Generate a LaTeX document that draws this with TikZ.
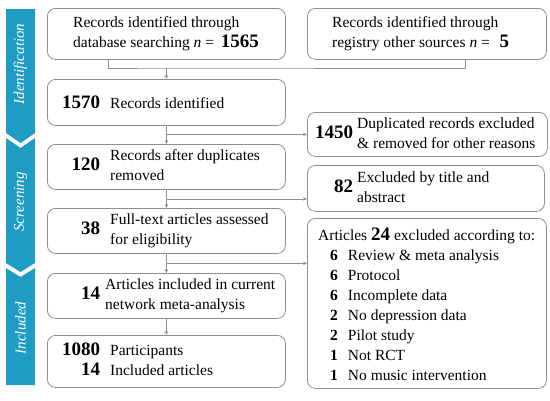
\documentclass[tikz,border=0pt]{standalone}
\usepackage{fontspec}
\setmainfont{Liberation Serif}
\usetikzlibrary{positioning,calc,arrows.meta}
\definecolor{barblue}{HTML}{1E9CC4}
\definecolor{linegray}{HTML}{8F8F8F}
\newcommand{\bignum}[1]{{\fontsize{19}{20}\selectfont\bfseries #1}}
\newcommand{\numcol}[2][10pt]{\makebox[40pt][r]{\bignum{#2}}\hspace{#1}}

\begin{document}
\begin{tikzpicture}[x=1pt,y=-1pt,
    box/.style={draw=linegray,line width=0.8pt,rounded corners=8pt,anchor=north west},
    txt/.style={inner sep=0pt,align=left,font=\fontsize{15.5}{20}\selectfont},
    conn/.style={draw=linegray,line width=0.8pt},
    arr/.style={conn,-{Stealth[length=4pt,width=3.5pt]}},
    stage/.style={fill=barblue},
    stagetext/.style={text=white,rotate=90,font=\fontsize{15}{16}\selectfont\itshape}]
  \useasboundingbox (0,0) rectangle (550,400);

  % stage bar on the left
  \fill[stage] (6,9) -- (35,9) -- (35,133) -- (20.5,143) -- (6,133) -- cycle;
  \fill[stage] (6,138) -- (20.5,148) -- (35,138) -- (35,263) -- (20.5,272) -- (6,263) -- cycle;
  \fill[stage] (6,268) -- (20.5,277) -- (35,268) -- (35,385) -- (6,385) -- cycle;
  \node[stagetext] (idlab) at (20.5,64) {Identification};
  \node[stagetext] (scrlab) at (20.5,202) {Screening};
  \node[stagetext] (inclab) at (20.5,328) {Included};

  % boxes
  \node[box,minimum width=238pt,minimum height=51pt] (db) at (47,8) {};
  \node[box,minimum width=239pt,minimum height=51pt] (reg) at (307,8) {};
  \node[box,minimum width=238pt,minimum height=46pt] (ident) at (47,79) {};
  \node[box,minimum width=238pt,minimum height=45pt] (dup) at (47,144) {};
  \node[box,minimum width=238pt,minimum height=45pt] (full) at (47,208) {};
  \node[box,minimum width=238pt,minimum height=45pt] (incl) at (47,273) {};
  \node[box,minimum width=238pt,minimum height=52pt] (part) at (47,335) {};
  \node[box,minimum width=240pt,minimum height=44pt] (excl1) at (307,112) {};
  \node[box,minimum width=237pt,minimum height=46pt] (excl2) at (307,165) {};
  \node[box,minimum width=239pt,minimum height=170pt] (excl3) at (307,218) {};

  % texts
  \node[txt,right=26pt of db.west] (dbtext) {Records identified through\\database searching \textit{n} = \hspace{3pt}\bignum{1565}};
  \node[txt,right=25pt of reg.west] (regtext) {Records identified through\\registry other sources \textit{n} = \hspace{6pt}\bignum{5}};
  \node[txt,right=13pt of ident.west] (identtext) {\numcol{1570}Records identified};
  \node[txt,right=13pt of dup.west] (duptext) {\numcol{120}\begin{tabular}{@{}l@{}}Records after duplicates\\removed\end{tabular}};
  \node[txt,right=13pt of full.west] (fulltext) {\numcol{38}\begin{tabular}{@{}l@{}}Full-text articles assessed\\for eligibility\end{tabular}};
  \node[txt,right=13pt of incl.west] (incltext) {\numcol[5pt]{14}\begin{tabular}{@{}l@{}}Articles included in current\\network meta-analysis\end{tabular}};
  \node[txt,right=13pt of part.west] (parttext) {\begin{tabular}{@{}l@{}}\numcol{1080}Participants\\\numcol{14}Included articles\end{tabular}};
  \node[txt,right=6pt of excl1.west] (excl1text) {\numcol[4pt]{1450}\begin{tabular}{@{}l@{}}Duplicated records excluded\\\& removed for other reasons\end{tabular}};
  \node[txt,right=6pt of excl2.west] (excl2text) {\numcol[4pt]{82}\begin{tabular}{@{}l@{}}Excluded by title and\\abstract\end{tabular}};
  \node[txt,right=11pt of excl3.west,yshift=-3pt] (excl3text) {\begin{tabular}{@{}l@{\hspace{10pt}}l@{}}
      \multicolumn{2}{@{}l@{}}{Articles \bignum{24} excluded according to:}\\
      \hspace{12pt}\textbf{6} & Review \& meta analysis\\
      \hspace{12pt}\textbf{6} & Protocol\\
      \hspace{12pt}\textbf{6} & Incomplete data\\
      \hspace{12pt}\textbf{2} & No depression data\\
      \hspace{12pt}\textbf{2} & Pilot study\\
      \hspace{12pt}\textbf{1} & Not RCT\\
      \hspace{12pt}\textbf{1} & No music intervention
    \end{tabular}};

  % connectors
  \coordinate (split) at ($(ident.north)+(0,-11)$);
  \draw[conn] ([xshift=61pt]db.south west) |- (split) -| ([xshift=158pt]reg.south west);
  \draw[arr] (split) -- (ident.north);
  \draw[arr] (ident.south) -- (dup.north);
  \draw[arr] (ident.south |- excl1.west) -- (excl1.west);
  \coordinate (b2) at ($(dup.south)!0.5!(full.north)$);
  \draw[arr] (dup.south) -- (full.north);
  \draw[arr] (b2) -- (b2 -| excl2.west);
  \coordinate (b3) at ($(full.south)!0.5!(incl.north)$);
  \draw[arr] (full.south) -- (incl.north);
  \draw[arr] (b3) -- (b3 -| excl3.west);
  \draw[arr] (incl.south) -- (part.north);
\end{tikzpicture}
\end{document}
